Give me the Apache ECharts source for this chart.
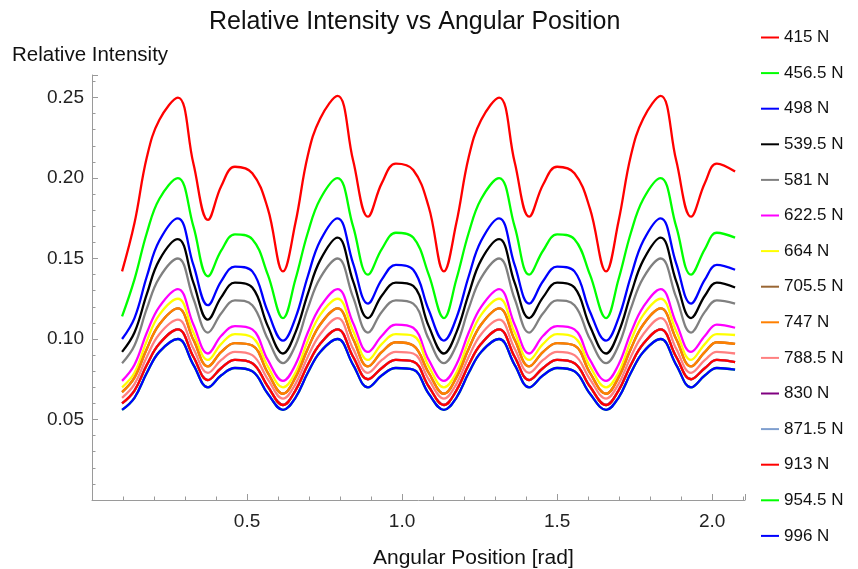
<!DOCTYPE html>
<html>
<head>
<meta charset="utf-8">
<script src="https://cdn.jsdelivr.net/npm/echarts@6/dist/echarts.min.js"></script>
<style>
  html, body { margin: 0; padding: 0; background: #fff; }
  #chart { width: 858px; height: 569px; }
</style>
</head>
<body>
<div id="chart"></div>
<script>
// angular positions (rad)
const xs = [
    0.097, 0.137, 0.177, 0.217, 0.277, 0.327, 0.374, 0.417, 0.461, 0.517, 0.567,
    0.616, 0.656, 0.696, 0.736, 0.792, 0.842, 0.890, 0.935, 0.980, 1.036, 1.086,
    1.135, 1.175, 1.215, 1.255, 1.313, 1.363, 1.410, 1.455, 1.500, 1.556, 1.606,
    1.658, 1.698, 1.738, 1.778, 1.834, 1.884, 1.932, 1.977, 2.015, 2.074
];

// relative intensity per load
const i415 = [
    0.142, 0.172, 0.213, 0.236, 0.250, 0.209, 0.174, 0.195, 0.207, 0.203, 0.181,
    0.142, 0.172, 0.214, 0.237, 0.251, 0.211, 0.176, 0.197, 0.209, 0.205, 0.182,
    0.142, 0.172, 0.213, 0.236, 0.250, 0.210, 0.176, 0.196, 0.207, 0.203, 0.181,
    0.142, 0.173, 0.214, 0.237, 0.251, 0.211, 0.176, 0.197, 0.209, 0.204
];
const i456 = [
    0.114, 0.137, 0.166, 0.187, 0.200, 0.170, 0.139, 0.155, 0.165, 0.162, 0.140,
    0.113, 0.137, 0.166, 0.187, 0.200, 0.170, 0.140, 0.156, 0.166, 0.163, 0.140,
    0.113, 0.137, 0.166, 0.187, 0.200, 0.170, 0.140, 0.155, 0.165, 0.162, 0.140,
    0.113, 0.137, 0.166, 0.187, 0.200, 0.170, 0.140, 0.156, 0.166, 0.163
];
const i498 = [
    0.100, 0.113, 0.139, 0.161, 0.175, 0.146, 0.121, 0.136, 0.145, 0.142, 0.117,
    0.099, 0.113, 0.139, 0.161, 0.175, 0.147, 0.122, 0.137, 0.146, 0.143, 0.118,
    0.099, 0.113, 0.139, 0.161, 0.175, 0.146, 0.122, 0.136, 0.145, 0.142, 0.117,
    0.099, 0.113, 0.139, 0.161, 0.175, 0.147, 0.122, 0.137, 0.146, 0.143
];
const i539 = [
    0.092, 0.104, 0.128, 0.149, 0.162, 0.135, 0.112, 0.126, 0.135, 0.132, 0.108,
    0.091, 0.104, 0.128, 0.149, 0.163, 0.136, 0.113, 0.127, 0.135, 0.133, 0.108,
    0.091, 0.104, 0.128, 0.149, 0.162, 0.135, 0.113, 0.126, 0.135, 0.132, 0.108,
    0.091, 0.104, 0.128, 0.149, 0.163, 0.136, 0.113, 0.127, 0.135, 0.132
];
const i581 = [
    0.085, 0.096, 0.119, 0.138, 0.150, 0.125, 0.104, 0.116, 0.124, 0.121, 0.100,
    0.085, 0.096, 0.119, 0.138, 0.150, 0.126, 0.104, 0.117, 0.124, 0.122, 0.100,
    0.085, 0.096, 0.119, 0.138, 0.150, 0.125, 0.104, 0.116, 0.124, 0.121, 0.100,
    0.085, 0.096, 0.119, 0.138, 0.150, 0.126, 0.104, 0.117, 0.124, 0.122
];
const i622 = [
    0.074, 0.084, 0.104, 0.120, 0.131, 0.109, 0.091, 0.102, 0.108, 0.106, 0.087,
    0.074, 0.084, 0.104, 0.120, 0.131, 0.110, 0.092, 0.102, 0.109, 0.107, 0.087,
    0.074, 0.084, 0.104, 0.120, 0.131, 0.109, 0.091, 0.102, 0.108, 0.106, 0.087,
    0.074, 0.084, 0.104, 0.120, 0.131, 0.110, 0.092, 0.102, 0.109, 0.107
];
const i664 = [
    0.070, 0.079, 0.099, 0.115, 0.125, 0.104, 0.087, 0.097, 0.103, 0.101, 0.083,
    0.070, 0.079, 0.099, 0.115, 0.125, 0.105, 0.087, 0.097, 0.103, 0.102, 0.083,
    0.070, 0.079, 0.099, 0.115, 0.125, 0.104, 0.087, 0.097, 0.103, 0.101, 0.083,
    0.070, 0.079, 0.099, 0.115, 0.125, 0.105, 0.087, 0.097, 0.103, 0.1025
];
// 705.5 N lies under 747 N in the picture
const i747 = [
    0.067, 0.076, 0.094, 0.109, 0.119, 0.0995, 0.083, 0.092, 0.0975, 0.096, 0.079,
    0.066, 0.076, 0.094, 0.109, 0.119, 0.100, 0.083, 0.092, 0.098, 0.096, 0.079,
    0.066, 0.076, 0.094, 0.109, 0.119, 0.0995, 0.083, 0.092, 0.0975, 0.096, 0.079,
    0.066, 0.076, 0.094, 0.109, 0.119, 0.100, 0.083, 0.092, 0.098, 0.097
];
const i705 = i747;
const i788 = [
    0.0635, 0.072, 0.089, 0.103, 0.112, 0.094, 0.079, 0.087, 0.092, 0.090, 0.075,
    0.063, 0.072, 0.089, 0.103, 0.113, 0.094, 0.079, 0.087, 0.092, 0.091, 0.075,
    0.063, 0.072, 0.089, 0.103, 0.112, 0.094, 0.079, 0.087, 0.092, 0.090, 0.075,
    0.063, 0.072, 0.089, 0.103, 0.113, 0.094, 0.079, 0.087, 0.092, 0.091
];
// 830 N and 871.5 N are hidden under 913 N
const i913 = [
    0.060, 0.068, 0.084, 0.097, 0.106, 0.089, 0.0745, 0.082, 0.087, 0.085, 0.0705,
    0.059, 0.068, 0.084, 0.097, 0.106, 0.089, 0.075, 0.082, 0.087, 0.086, 0.0705,
    0.059, 0.068, 0.084, 0.097, 0.106, 0.089, 0.0745, 0.082, 0.087, 0.085, 0.0705,
    0.059, 0.068, 0.084, 0.097, 0.106, 0.089, 0.075, 0.082, 0.087, 0.0857
];
const i830 = i913;
const i871 = i913;
// 954.5 N is hidden under 996 N
const i996 = [
    0.056, 0.0635, 0.079, 0.092, 0.100, 0.084, 0.070, 0.0775, 0.082, 0.080, 0.066,
    0.056, 0.0635, 0.079, 0.092, 0.100, 0.084, 0.070, 0.0775, 0.082, 0.081, 0.066,
    0.056, 0.0635, 0.079, 0.092, 0.100, 0.084, 0.070, 0.0775, 0.082, 0.080, 0.066,
    0.056, 0.0635, 0.079, 0.092, 0.100, 0.084, 0.070, 0.0775, 0.082, 0.081
];
const i954 = i996;

const loads = ['415 N', '456.5 N', '498 N', '539.5 N', '581 N', '622.5 N', '664 N', '705.5 N',
    '747 N', '788.5 N', '830 N', '871.5 N', '913 N', '954.5 N', '996 N'];
const values = [i415, i456, i498, i539, i581, i622, i664, i705,
    i747, i788, i830, i871, i913, i954, i996];
const colors = ['#ff0000', '#00ff00', '#0000ff', '#000000', '#808080', '#ff00ff', '#ffff00', '#996633',
    '#ff8000', '#ff8080', '#800080', '#7f9fcf', '#ff0000', '#00ff00', '#0000ff'];

const chart = echarts.init(document.getElementById('chart'));

const series = loads.map(function (name, k) {
    return {
        name: name,
        type: 'line',
        smooth: 0.4,
        showSymbol: false,
        symbol: 'none',
        lineStyle: { width: 2.3, color: colors[k] },
        itemStyle: { color: colors[k] },
        data: xs.map(function (x, j) { return [x, values[k][j]]; })
    };
});

const font = 'Liberation Sans, Arial, sans-serif';

chart.setOption({
    animation: false,
    title: [
        {
            text: 'Relative Intensity vs Angular Position',
            left: 204, top: 5,
            textStyle: { fontFamily: font, fontSize: 25, fontWeight: 'normal', color: '#111' }
        },
        {
            text: 'Relative Intensity',
            left: 7, top: 40,
            textStyle: { fontFamily: font, fontSize: 20.5, fontWeight: 'normal', color: '#111' }
        },
        {
            text: 'Angular Position [rad]',
            left: 368, top: 543,
            textStyle: { fontFamily: font, fontSize: 21, fontWeight: 'normal', color: '#111' }
        }
    ],
    legend: {
        orient: 'vertical',
        left: 756,
        top: 24,
        icon: 'rect',
        itemWidth: 18,
        itemHeight: 2,
        itemGap: 18.6,
        itemTextGap: 7,
        data: loads,
        textStyle: { fontFamily: font, fontSize: 17, color: '#111' }
    },
    grid: { left: 92, right: 113, top: 75, bottom: 69 },
    xAxis: {
        type: 'value',
        min: 0,
        max: 2.106,
        interval: 0.5,
        axisLine: { lineStyle: { color: '#9a9a9a', width: 1 } },
        axisTick: { inside: true, length: 6, lineStyle: { color: '#9a9a9a' } },
        minorTick: { show: true, splitNumber: 5, length: 3.5, lineStyle: { color: '#9a9a9a' } },
        splitLine: { show: false },
        axisLabel: {
            showMinLabel: false, showMaxLabel: false,
            fontFamily: font, fontSize: 19, color: '#222', margin: 12,
            formatter: function (v) { return v.toFixed(1); }
        }
    },
    yAxis: {
        type: 'value',
        min: 0,
        max: 0.264,
        interval: 0.05,
        axisLine: { show: true, lineStyle: { color: '#9a9a9a', width: 1 } },
        axisTick: { show: true, inside: true, length: 6, lineStyle: { color: '#9a9a9a' } },
        minorTick: { show: true, splitNumber: 5, length: 3.5, lineStyle: { color: '#9a9a9a' } },
        splitLine: { show: false },
        axisLabel: {
            showMinLabel: false, showMaxLabel: false,
            fontFamily: font, fontSize: 19, color: '#222', margin: 8,
            formatter: function (v) { return v.toFixed(2); }
        }
    },
    series: series
});

window.addEventListener('resize', function () {
    chart.resize();
});
</script>
</body>
</html>
